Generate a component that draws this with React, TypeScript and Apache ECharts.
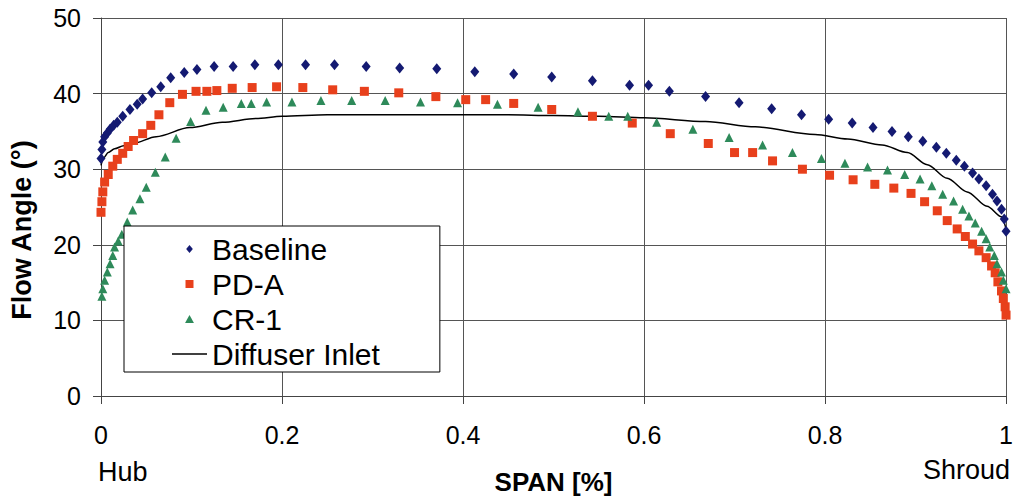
import React, { useEffect, useRef } from "react";
import * as echarts from "echarts";

const baselineX = [0.000, 0.001, 0.002, 0.004, 0.007, 0.010, 0.014, 0.018, 0.024, 0.032, 0.040, 0.046, 0.056, 0.066, 0.077, 0.092, 0.106, 0.125, 0.146, 0.170, 0.196, 0.226, 0.258, 0.293, 0.330, 0.371, 0.413, 0.456, 0.498, 0.543, 0.584, 0.605, 0.628, 0.668, 0.705, 0.741, 0.774, 0.804, 0.830, 0.853, 0.874, 0.892, 0.908, 0.923, 0.934, 0.945, 0.954, 0.963, 0.970, 0.978, 0.985, 0.990, 0.995, 0.998, 1.000];
const baselineY = [31.4, 32.6, 33.6, 34.3, 34.8, 35.3, 35.8, 36.2, 37.0, 37.9, 38.6, 39.3, 40.1, 40.9, 42.1, 42.8, 43.2, 43.6, 43.6, 43.8, 43.8, 43.8, 43.8, 43.6, 43.4, 43.3, 42.9, 42.6, 42.2, 41.7, 41.1, 41.1, 40.3, 39.6, 38.8, 38.0, 37.2, 36.6, 36.1, 35.5, 35.0, 34.3, 33.7, 32.9, 32.1, 31.2, 30.4, 29.5, 28.7, 27.8, 26.7, 25.8, 24.7, 23.4, 21.8];

const pdaX = [0.000, 0.001, 0.002, 0.004, 0.008, 0.013, 0.018, 0.024, 0.030, 0.036, 0.046, 0.055, 0.064, 0.076, 0.090, 0.105, 0.117, 0.128, 0.145, 0.167, 0.194, 0.223, 0.256, 0.291, 0.329, 0.370, 0.403, 0.425, 0.456, 0.498, 0.543, 0.587, 0.629, 0.671, 0.700, 0.720, 0.742, 0.775, 0.805, 0.831, 0.855, 0.876, 0.895, 0.910, 0.924, 0.935, 0.946, 0.955, 0.963, 0.970, 0.978, 0.984, 0.988, 0.991, 0.995, 0.997, 0.999, 1.000];
const pdaY = [24.3, 25.7, 27.0, 28.3, 29.3, 30.4, 31.3, 32.1, 33.0, 33.8, 34.7, 35.8, 37.2, 38.8, 39.9, 40.3, 40.3, 40.4, 40.7, 40.8, 40.9, 40.8, 40.5, 40.3, 40.1, 39.6, 39.2, 39.2, 38.7, 37.9, 37.0, 36.1, 34.7, 33.4, 32.2, 32.2, 31.1, 30.0, 29.2, 28.6, 28.0, 27.5, 26.8, 25.7, 24.5, 23.2, 22.1, 21.1, 20.1, 19.2, 18.3, 17.2, 16.3, 15.1, 13.9, 12.9, 11.8, 10.7];

const cr1X = [0.001, 0.002, 0.004, 0.007, 0.010, 0.013, 0.015, 0.019, 0.023, 0.029, 0.035, 0.043, 0.050, 0.060, 0.071, 0.083, 0.099, 0.116, 0.135, 0.155, 0.166, 0.183, 0.211, 0.243, 0.277, 0.314, 0.353, 0.394, 0.438, 0.483, 0.527, 0.561, 0.582, 0.614, 0.654, 0.694, 0.731, 0.764, 0.796, 0.822, 0.847, 0.869, 0.888, 0.905, 0.918, 0.930, 0.942, 0.952, 0.959, 0.966, 0.973, 0.978, 0.982, 0.987, 0.990, 0.995, 0.997, 1.000];
const cr1Y = [13.2, 14.2, 15.3, 16.4, 17.5, 18.6, 19.7, 20.5, 21.4, 23.0, 24.6, 26.1, 27.6, 29.6, 31.6, 34.1, 36.3, 37.8, 38.2, 38.7, 38.7, 38.9, 38.9, 39.1, 39.1, 39.1, 38.9, 38.8, 38.6, 38.2, 37.6, 37.0, 37.0, 36.2, 35.3, 34.2, 33.2, 32.2, 31.4, 30.8, 30.3, 29.9, 29.3, 28.7, 27.8, 26.7, 25.8, 24.7, 23.8, 22.9, 21.8, 20.8, 19.7, 18.6, 17.5, 16.4, 15.3, 14.2];

const diffuserX = [0, 0.003, 0.008, 0.015, 0.025, 0.035, 0.061, 0.098, 0.134, 0.171, 0.2, 0.25, 0.3, 0.35, 0.4, 0.45, 0.5, 0.55, 0.6, 0.668, 0.723, 0.789, 0.825, 0.863, 0.891, 0.913, 0.935, 0.957, 0.979, 0.995, 1.0];
const diffuserY = [30.5, 31.5, 32.2, 32.7, 33.1, 33.4, 34.3, 35.5, 36.2, 36.7, 37.0, 37.2, 37.2, 37.2, 37.2, 37.2, 37.1, 37.0, 36.8, 36.3, 35.6, 34.6, 34.0, 33.2, 32.2, 30.6, 28.8, 27.0, 25.1, 23.7, 22.1];

const seriesNames = ["Baseline", "PD-A", "CR-1", "Diffuser Inlet"];

const zip = (xs: number[], ys: number[]) => xs.map((x, i) => [x, ys[i]]);

const FONT = "'Liberation Sans', Arial, sans-serif";

export default function App() {
  const ref = useRef<HTMLDivElement>(null);
  useEffect(() => {
    if (!ref.current) return;
    const chart = echarts.init(ref.current, null, { renderer: "svg" });
    chart.setOption({
      animation: false,
      backgroundColor: "#ffffff",
      textStyle: { fontFamily: FONT },
      grid: { left: 101, right: 4, top: 18, bottom: 102, containLabel: false },
      xAxis: {
        type: "value",
        min: 0,
        max: 1,
        interval: 0.2,
        name: "SPAN [%]",
        nameLocation: "middle",
        nameGap: 73,
        nameTextStyle: { fontSize: 26, fontWeight: "bold", color: "#000", fontFamily: FONT },
        axisLine: { show: true, onZero: false, lineStyle: { color: "#444", width: 1 } },
        axisTick: { show: true, inside: false, length: 8, lineStyle: { color: "#444" } },
        axisLabel: { fontSize: 25, color: "#000", margin: 26, fontFamily: FONT },
        splitLine: { show: true, lineStyle: { color: "#555", width: 1 } },
      },
      yAxis: {
        type: "value",
        min: 0,
        max: 50,
        interval: 10,
        axisLine: { show: true, lineStyle: { color: "#444", width: 1 } },
        axisTick: { show: true, inside: false, length: 8, lineStyle: { color: "#444" } },
        axisLabel: { fontSize: 25, color: "#000", margin: 20, fontFamily: FONT },
        splitLine: { show: true, lineStyle: { color: "#555", width: 1 } },
      },
      legend: {
        orient: "vertical",
        left: 124,
        top: 226,
        data: [
          { name: seriesNames[0], icon: "path://M5,0L10,6L5,12L0,6Z" },
          { name: seriesNames[1], icon: "path://M0,0H10V10H0Z" },
          { name: seriesNames[2], icon: "path://M5,0L10,9H0Z" },
          { name: seriesNames[3], icon: "path://M0,0H40V1.6H0Z" },
        ],
        symbolKeepAspect: true,
        backgroundColor: "#ffffff",
        borderColor: "#000",
        borderWidth: 1,
        borderRadius: 0,
        padding: [8, 60, 3, 48],
        itemGap: 5,
        itemWidth: 35,
        itemHeight: 8,
        textStyle: { fontSize: 30, color: "#000", lineHeight: 30, fontFamily: FONT },
        selectedMode: false,
      },
      graphic: [
        {
          type: "text",
          left: 98,
          top: 458,
          style: { text: "Hub", fontSize: 27, fill: "#000", fontFamily: FONT },
        },
        {
          type: "text",
          right: 6,
          top: 456,
          style: { text: "Shroud", fontSize: 27, fill: "#000", fontFamily: FONT },
        },
        {
          type: "text",
          x: 22,
          y: 230,
          rotation: Math.PI / 2,
          style: {
            text: "Flow Angle (°)",
            fontSize: 27,
            fontWeight: "bold",
            fill: "#000",
            fontFamily: FONT,
            align: "center",
            verticalAlign: "middle",
          },
        },
      ],
      series: [
        {
          name: seriesNames[0],
          type: "scatter",
          symbol: "diamond",
          symbolSize: [9, 11],
          itemStyle: { color: "#141a72", opacity: 1 },
          data: zip(baselineX, baselineY),
          z: 3,
        },
        {
          name: seriesNames[1],
          type: "scatter",
          symbol: "rect",
          symbolSize: 9,
          itemStyle: { color: "#e8401c", opacity: 1 },
          data: zip(pdaX, pdaY),
          z: 3,
        },
        {
          name: seriesNames[2],
          type: "scatter",
          symbol: "triangle",
          symbolSize: [9, 9],
          itemStyle: { color: "#2e8a5a", opacity: 1 },
          data: zip(cr1X, cr1Y),
          z: 3,
        },
        {
          name: seriesNames[3],
          type: "line",
          symbol: "none",
          showSymbol: false,
          smooth: 0.3,
          smoothMonotone: "x",
          lineStyle: { color: "#000", width: 1.5 },
          itemStyle: { color: "#000" },
          data: zip(diffuserX, diffuserY),
          z: 2,
        },
      ],
    });
    return () => chart.dispose();
  }, []);
  return <div ref={ref} style={{ width: 1016, height: 500, position: "absolute", left: 0, top: 0 }} />;
}
